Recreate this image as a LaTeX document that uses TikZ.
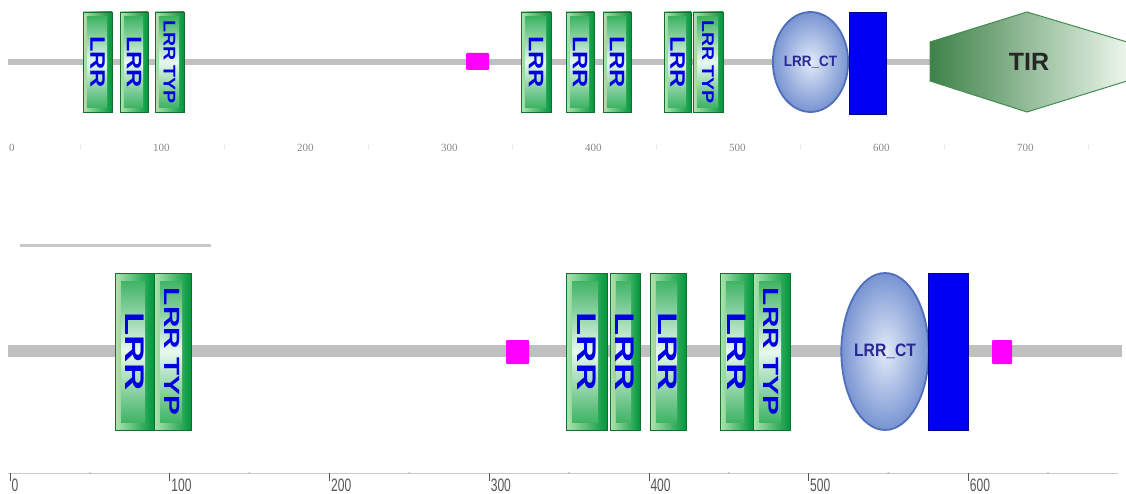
\documentclass[tikz,border=0pt]{standalone}
\usepackage{fontspec}
\usetikzlibrary{shapes.geometric}
\newfontfamily\domf{Liberation Sans}
\newfontfamily\scalef{Liberation Serif}
\definecolor{backbone}{RGB}{192,192,192}
\definecolor{boxEdge}{RGB}{20,110,50}
\definecolor{boxLight}{RGB}{175,228,175}
\definecolor{boxDark}{RGB}{0,150,60}
\definecolor{boxMid}{RGB}{45,172,85}
\definecolor{boxPale}{RGB}{232,248,240}
\definecolor{domBlue}{RGB}{0,0,225}
\definecolor{ctText}{RGB}{40,40,150}
\definecolor{ctEdge}{RGB}{80,110,185}
\definecolor{ctInner}{RGB}{225,234,248}
\definecolor{ctOuter}{RGB}{120,148,210}
\definecolor{tmBlue}{RGB}{0,0,242}
\definecolor{lowCx}{RGB}{255,0,255}
\definecolor{tirDark}{RGB}{62,130,72}
\definecolor{tirLight}{RGB}{235,246,235}
\definecolor{tirEdge}{RGB}{70,140,80}
\definecolor{axisGrey}{RGB}{200,200,200}
\definecolor{topLabel}{RGB}{135,135,135}
\definecolor{botLabel}{RGB}{85,85,85}
% rotated domain caption: text, size, horizontal stretch
\newcommand\lrrtxt[3]{\rotatebox{-90}{\scalebox{#3}[1]{\fontsize{#2}{#2}\selectfont\domf\bfseries #1}}}
\newcommand\cttxt[2]{\scalebox{#2}[1]{\fontsize{#1}{#1}\selectfont\domf\bfseries LRR\_CT}}
\begin{document}
\begin{tikzpicture}[x=1pt,y=-1pt,
  lrrbase/.style={draw=boxEdge, line width=0.6pt, inner sep=0pt,
    left color=boxLight, right color=boxDark, text=domBlue},
  lrrT/.style={lrrbase, minimum height=100pt,
    path picture={\shade[top color=boxMid, bottom color=boxMid, middle color=boxPale]
      ([xshift=4pt,yshift=-5pt]path picture bounding box.north west) rectangle
      ([xshift=-5pt,yshift=4pt]path picture bounding box.south east);}},
  lrrB/.style={lrrbase, minimum height=157pt,
    path picture={\shade[top color=boxMid, bottom color=boxMid, middle color=boxPale]
      ([xshift=6pt,yshift=-8pt]path picture bounding box.north west) rectangle
      ([xshift=-9pt,yshift=8pt]path picture bounding box.south east);}},
  lrrct/.style={ellipse, draw=ctEdge, line width=1.8pt, inner sep=0pt,
    inner color=ctInner, outer color=ctOuter, text=ctText},
  tmseg/.style={rectangle, fill=tmBlue, draw=tmBlue!60!black, line width=0.4pt, inner sep=0pt},
  lowc/.style={rectangle, fill=lowCx, inner sep=0pt, rounded corners=1pt},
  chain/.style={draw=backbone, line cap=butt},
  toplab/.style={anchor=west, inner sep=0pt, text=topLabel, font=\scalef\fontsize{11}{11}\selectfont},
  botlab/.style={anchor=west, inner sep=0pt, text=botLabel},
  faint/.style={draw=gray!15, line width=0.6pt}
]
\useasboundingbox (0,0) rectangle (1126,494);

% ---------------- first protein ----------------
\coordinate (p1s) at (8,62);
\coordinate (p1e) at (930,62);
\draw[chain, line width=6pt] (p1s) -- (p1e);

\node[lrrT, minimum width=29pt] (a1) at (97.5,62) {\lrrtxt{LRR}{21}{1.2}};
\node[lrrT, minimum width=28pt] (a2) at (134,62) {\lrrtxt{LRR}{21}{1.2}};
\node[lrrT, minimum width=29pt] (a3) at (169.5,62) {\lrrtxt{LRR TYP}{17}{1.15}};
\node[lowc, minimum width=23pt, minimum height=17pt] (a4) at (477.5,61.5) {};
\node[lrrT, minimum width=30pt] (a5) at (536,62) {\lrrtxt{LRR}{21}{1.2}};
\node[lrrT, minimum width=28pt] (a6) at (580,62) {\lrrtxt{LRR}{21}{1.2}};
\node[lrrT, minimum width=28pt] (a7) at (617,62) {\lrrtxt{LRR}{21}{1.2}};
\node[lrrT, minimum width=27pt] (a8) at (677.5,62) {\lrrtxt{LRR}{21}{1.2}};
\node[lrrT, minimum width=30pt] (a9) at (708,62) {\lrrtxt{LRR TYP}{17}{1.15}};
\node[lrrct, minimum width=75pt, minimum height=100pt] (a10) at (810.5,62) {\cttxt{15}{0.9}};
\node[tmseg, minimum width=37pt, minimum height=102pt] (a11) at (867.5,63) {};

% TIR domain
\coordinate (tA) at (930,42);
\coordinate (tB) at (1027,12);
\coordinate (tC) at (1127,42);
\coordinate (tD) at (1127,81);
\coordinate (tE) at (1027,112);
\coordinate (tF) at (930,81);
\path[draw=tirEdge, line width=1pt, left color=tirDark, right color=tirLight, line join=miter]
  (tA) -- (tB) -- (tC) -- (tD) -- (tE) -- (tF) -- cycle;
\node[inner sep=0pt, text=black!85] (tir) at (1029,62) {\fontsize{25}{25}\selectfont\domf\bfseries TIR};

% scale of the first protein
\foreach \v [count=\i from 0] in {0,100,200,300,400,500,600,700} {
  \node[toplab] (sl\i) at ({9+144*\i},148) {\v};
}
\foreach \i in {0,...,7} {
  \coordinate (sm\i) at ({80+144*\i},144);
  \draw[faint] (sm\i) -- ++(0,6);
}

% ---------------- second protein ----------------
\coordinate (gs) at (20,246);
\coordinate (ge) at (211,246);
\draw[draw=axisGrey, line width=3pt] (gs) -- (ge);

\coordinate (p2s) at (8,351);
\coordinate (p2e) at (1122,351);
\draw[chain, line width=12pt] (p2s) -- (p2e);

\node[lrrB, minimum width=39pt] (b1) at (134.5,351.5) {\lrrtxt{LRR}{27}{1.4}};
\node[lrrB, minimum width=37pt] (b2) at (172.5,351.5) {\lrrtxt{LRR TYP}{22}{1.35}};
\node[lowc, minimum width=23pt, minimum height=24pt] (b3) at (517.5,352) {};
\node[lrrB, minimum width=41pt] (b4) at (586.5,351.5) {\lrrtxt{LRR}{27}{1.4}};
\node[lrrB, minimum width=30pt] (b5) at (625,351.5) {\lrrtxt{LRR}{27}{1.4}};
\node[lrrB, minimum width=36pt] (b6) at (668,351.5) {\lrrtxt{LRR}{27}{1.4}};
\node[lrrB, minimum width=33pt] (b7) at (736.5,351.5) {\lrrtxt{LRR}{27}{1.4}};
\node[lrrB, minimum width=37pt] (b8) at (771.5,351.5) {\lrrtxt{LRR TYP}{22}{1.35}};
\node[lrrct, minimum width=86pt, minimum height=157pt] (b9) at (885,351.5) {\cttxt{18}{0.87}};
\node[tmseg, minimum width=40pt, minimum height=157pt] (b10) at (948,351.5) {};
\node[lowc, minimum width=20pt, minimum height=24pt] (b11) at (1002,352) {};

% scale of the second protein
\coordinate (ax0) at (8,473);
\coordinate (ax1) at (1118,473);
\draw[draw=axisGrey, line width=0.8pt] (ax0) -- (ax1);
\foreach \v [count=\i from 0] in {0,100,200,300,400,500,600} {
  \coordinate (bt\i) at ({10+159.7*\i},473);
  \draw[draw=botLabel, line width=0.6pt] (bt\i) -- ++(0,8);
  \node[botlab] (bl\i) at ({11.5+159.7*\i},485) {\scalebox{0.67}[1]{\fontsize{18}{18}\selectfont\domf \v}};
}
\foreach \i in {0,...,6} {
  \coordinate (bm\i) at ({89.8+159.7*\i},473);
  \fill[gray!45] (bm\i) circle (1.2pt);
}
\end{tikzpicture}
\end{document}
